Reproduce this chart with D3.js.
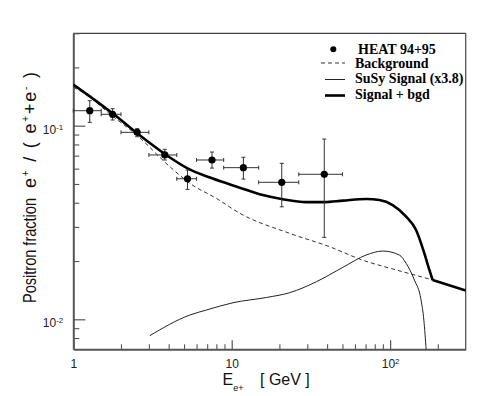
<!DOCTYPE html>
<html>
<head>
<meta charset="utf-8">
<script src="https://d3js.org/d3.v7.min.js"></script>
<style>
  body { margin: 0; background: #ffffff; }
  .tickLabel { font-family: "Liberation Sans Narrow", "Liberation Sans", Arial, sans-serif; font-size: 12px; fill: #222; }
  .legendText { font-family: "Liberation Serif", "Times New Roman", serif; font-size: 14px; font-weight: bold; fill: #000; }
  .axisText { font-family: "Liberation Sans Narrow", "Liberation Sans", Arial, sans-serif; fill: #111; }
</style>
</head>
<body>
<div id="chart"></div>
<script>
// HEAT 94+95 data points (energy in GeV, positron fraction)
var heatE = [1.27, 1.77, 2.53, 3.78, 5.26, 7.51, 11.85, 20.7, 38.4];
var heatFrac = [0.1195, 0.1145, 0.0924, 0.0706, 0.0532, 0.0665, 0.0607, 0.051, 0.0561];
var heatELo = [1.0, 1.5, 2.0, 3.0, 4.5, 6.0, 8.9, 14.8, 26.5];
var heatEHi = [1.5, 2.0, 3.0, 4.5, 6.0, 8.9, 14.8, 26.5, 50];
var heatFracLo = [0.104, 0.107, 0.0877, 0.0665, 0.0469, 0.0604, 0.053, 0.0381, 0.0265];
var heatFracHi = [0.1346, 0.1224, 0.0965, 0.0755, 0.059, 0.0731, 0.0687, 0.0639, 0.0853];

// background curve
var bgE = [1, 1.13, 1.77, 2.51, 4.07, 5.44, 8.01, 11.23, 23.2, 41.5, 67.2, 109, 185.5, 300];
var bgFrac = [0.158, 0.1498, 0.112, 0.0895, 0.0614, 0.0504, 0.0421, 0.0353, 0.0278, 0.0237, 0.0202, 0.018, 0.01595, 0.0141];

// SuSy signal (x3.8)
var sigE = [3.04, 5.44, 6.93, 10.19, 16.55, 23.2, 34.2, 50.3, 70.6, 89.8, 114.4, 126.2, 142.3, 156.8, 163.3, 169];
var sigFrac = [0.00823, 0.01052, 0.01117, 0.01218, 0.01296, 0.01372, 0.01563, 0.01855, 0.02148, 0.02252, 0.02148, 0.01946, 0.01595, 0.01258, 0.0099, 0.0069];

// signal + background
var totE = [1, 1.77, 2.53, 3.78, 5.26, 7.51, 11.12, 15.7, 21.0, 29.6, 38.4, 50.3, 70.6, 85.6, 103.8, 126.2, 145.8, 164.5, 176.9, 185.5, 300];
var totFrac = [0.1632, 0.1158, 0.0913, 0.0714, 0.0602, 0.0535, 0.048, 0.0438, 0.0417, 0.0403, 0.0403, 0.041, 0.0418, 0.0413, 0.0389, 0.0339, 0.0289, 0.0219, 0.018, 0.01595, 0.0141];

// ticks
var xMajor = [1, 10, 100];
var xMajorBase = ["1", "10", "10"];
var xMajorExp = ["", "", "2"];
var xMinor = [2, 3, 4, 5, 6, 7, 8, 9, 20, 30, 40, 50, 60, 70, 80, 90, 200];
var yMajor = [0.01, 0.1];
var yMajorBase = ["10", "10"];
var yMajorExp = ["-2", "-1"];
var yMinor = [0.008, 0.009, 0.02, 0.03, 0.04, 0.05, 0.06, 0.07, 0.08, 0.09, 0.2, 0.3];

// legend entries
var legendLabels = ["HEAT 94+95", "Background", "SuSy Signal (x3.8)", "Signal + bgd"];

var svgWidth = 491;
var svgHeight = 396;
var margin = { top: 33.3, right: 25.3, bottom: 46.7, left: 73.3 };
var width = svgWidth - margin.left - margin.right;
var height = svgHeight - margin.top - margin.bottom;

var svg = d3.select("#chart")
  .append("svg")
  .attr("width", svgWidth)
  .attr("height", svgHeight);

var chartGroup = svg.append("g")
  .attr("transform", `translate(${margin.left}, ${margin.top})`);

var xScale = d3.scaleLog().domain([1, 300]).range([0, width]);
var yScale = d3.scaleLog().domain([0.007, 0.3]).range([height, 0]);

svg.append("defs").append("clipPath").attr("id", "plotClip")
  .append("rect").attr("width", width).attr("height", height);

// frame: top and right thin
chartGroup.append("line")
  .attr("x1", 0).attr("x2", width).attr("y1", 0).attr("y2", 0)
  .attr("stroke", "#444").attr("stroke-width", 1.2);
chartGroup.append("line")
  .attr("x1", width).attr("x2", width).attr("y1", 0).attr("y2", height)
  .attr("stroke", "#444").attr("stroke-width", 1.2);

// minor ticks
chartGroup.append("g")
  .attr("transform", `translate(0, ${height})`)
  .call(d3.axisBottom(xScale).tickValues(xMinor).tickSize(-5).tickSizeOuter(0).tickFormat(""))
  .call(g => g.select(".domain").remove())
  .selectAll("line").attr("stroke", "#555").attr("stroke-width", 1.1);

chartGroup.append("g")
  .call(d3.axisLeft(yScale).tickValues(yMinor).tickSize(-6).tickSizeOuter(0).tickFormat(""))
  .call(g => g.select(".domain").remove())
  .selectAll("line").attr("stroke", "#555").attr("stroke-width", 1.1);

// major ticks with labels
var xAxisG = chartGroup.append("g")
  .attr("transform", `translate(0, ${height})`)
  .call(d3.axisBottom(xScale).tickValues(xMajor).tickSize(-9).tickSizeOuter(0).tickPadding(10).tickFormat(""));
xAxisG.select(".domain").attr("stroke", "#555").attr("stroke-width", 2);
xAxisG.selectAll("line").attr("stroke", "#555").attr("stroke-width", 1.2);
xAxisG.selectAll("text").attr("class", "tickLabel").attr("font-family", null).attr("font-size", null)
  .each(function(d, i) {
    var t = d3.select(this);
    t.text(xMajorBase[i]);
    if (xMajorExp[i]) t.append("tspan").attr("dy", "-0.45em").style("font-size", "8px").text(xMajorExp[i]);
  });

var yAxisG = chartGroup.append("g")
  .call(d3.axisLeft(yScale).tickValues(yMajor).tickSize(-12).tickSizeOuter(0).tickPadding(10).tickFormat(""));
yAxisG.select(".domain").attr("stroke", "#555").attr("stroke-width", 2);
yAxisG.selectAll("line").attr("stroke", "#555").attr("stroke-width", 1.2);
yAxisG.selectAll("text").attr("class", "tickLabel").attr("font-family", null).attr("font-size", null)
  .attr("dy", "0.62em")
  .each(function(d, i) {
    var t = d3.select(this);
    t.text(yMajorBase[i]);
    t.append("tspan").attr("dy", "-0.5em").style("font-size", "8px").text(yMajorExp[i]);
  });

// curves
var line = d3.line()
  .x(d => xScale(d[0]))
  .y(d => yScale(d[1]))
  .curve(d3.curveMonotoneX);

var curves = chartGroup.append("g").attr("clip-path", "url(#plotClip)");

var bgPoints = bgE.map((e, i) => [e, bgFrac[i]]);
curves.append("path")
  .attr("d", line(bgPoints))
  .attr("fill", "none")
  .attr("stroke", "#333")
  .attr("stroke-width", 1)
  .attr("stroke-dasharray", "4,3");

var sigPoints = sigE.map((e, i) => [e, sigFrac[i]]);
curves.append("path")
  .attr("d", line(sigPoints))
  .attr("fill", "none")
  .attr("stroke", "#222")
  .attr("stroke-width", 1);

// thick curve has a kink where the signal ends, so split it there
var totPoints = totE.map((e, i) => [e, totFrac[i]]);
var kink = totPoints.length - 2;
curves.append("path")
  .attr("d", line(totPoints.slice(0, kink + 1)))
  .attr("fill", "none")
  .attr("stroke", "#000")
  .attr("stroke-width", 2.6);
curves.append("path")
  .attr("d", d3.line().x(d => xScale(d[0])).y(d => yScale(d[1]))(totPoints.slice(kink)))
  .attr("fill", "none")
  .attr("stroke", "#000")
  .attr("stroke-width", 2.6);

// error bars and points
var heat = heatE.map((e, i) => ({
  e: e, f: heatFrac[i], eLo: heatELo[i], eHi: heatEHi[i], fLo: heatFracLo[i], fHi: heatFracHi[i]
}));

var errGroup = chartGroup.append("g")
  .attr("stroke", "#333")
  .attr("stroke-width", 1);

heat.forEach(d => {
  var cx = xScale(d.e), cy = yScale(d.f);
  var x0 = xScale(d.eLo), x1 = xScale(d.eHi);
  var y0 = yScale(d.fLo), y1 = yScale(d.fHi);
  errGroup.append("line").attr("x1", x0).attr("x2", x1).attr("y1", cy).attr("y2", cy);
  errGroup.append("line").attr("x1", x0).attr("x2", x0).attr("y1", cy - 2).attr("y2", cy + 2);
  errGroup.append("line").attr("x1", x1).attr("x2", x1).attr("y1", cy - 2).attr("y2", cy + 2);
  errGroup.append("line").attr("x1", cx).attr("x2", cx).attr("y1", y0).attr("y2", y1);
  errGroup.append("line").attr("x1", cx - 2).attr("x2", cx + 2).attr("y1", y0).attr("y2", y0);
  errGroup.append("line").attr("x1", cx - 2).attr("x2", cx + 2).attr("y1", y1).attr("y2", y1);
});

chartGroup.selectAll(".heatDot")
  .data(heat)
  .enter()
  .append("circle")
  .attr("class", "heatDot")
  .attr("cx", d => xScale(d.e))
  .attr("cy", d => yScale(d.f))
  .attr("r", 3.6)
  .attr("fill", "#000");

// legend
var legendBase = [53.5, 68, 83, 99];
var legend = svg.append("g");
legend.append("circle").attr("cx", 333.3).attr("cy", legendBase[0] - 4.3).attr("r", 3).attr("fill", "#000");
legend.append("line").attr("x1", 321).attr("x2", 345).attr("y1", legendBase[1] - 5).attr("y2", legendBase[1] - 5)
  .attr("stroke", "#333").attr("stroke-width", 1).attr("stroke-dasharray", "4,3");
legend.append("line").attr("x1", 325).attr("x2", 345).attr("y1", legendBase[2] - 3.5).attr("y2", legendBase[2] - 3.5)
  .attr("stroke", "#222").attr("stroke-width", 1);
legend.append("line").attr("x1", 325).attr("x2", 345).attr("y1", legendBase[3] - 3.5).attr("y2", legendBase[3] - 3.5)
  .attr("stroke", "#000").attr("stroke-width", 2.6);
legendLabels.forEach((lab, i) => {
  legend.append("text")
    .attr("class", "legendText")
    .attr("x", i === 0 ? 358 : 355)
    .attr("y", legendBase[i])
    .text(lab);
});

// axis labels
var xLabel = svg.append("text")
  .attr("class", "axisText")
  .attr("x", 222.5)
  .attr("y", 384.5)
  .style("font-family", "'Liberation Sans', Arial, sans-serif")
  .style("font-size", "16px");
xLabel.append("tspan").text("E");
xLabel.append("tspan").attr("dy", 6).style("font-size", "9px").text("e+");
xLabel.append("tspan").attr("x", 260).attr("dy", -6).text("[ GeV ]");

// y label in two parts so the spacing follows the original
svg.append("text")
  .attr("class", "axisText")
  .attr("transform", "translate(36, 303) rotate(-90)")
  .attr("textLength", 105)
  .attr("lengthAdjust", "spacingAndGlyphs")
  .style("font-size", "18px")
  .text("Positron fraction");

var yLabel = svg.append("text")
  .attr("class", "axisText")
  .attr("transform", "translate(36, 188) rotate(-90)")
  .attr("textLength", 116)
  .attr("lengthAdjust", "spacing")
  .style("font-size", "18px");
yLabel.append("tspan").text("e");
yLabel.append("tspan").attr("dy", -7).style("font-size", "10px").text("+");
yLabel.append("tspan").attr("dy", 7).text(" / ( e");
yLabel.append("tspan").attr("dy", -7).style("font-size", "10px").text("+");
yLabel.append("tspan").attr("dy", 7).text("+e");
yLabel.append("tspan").attr("dy", -7).style("font-size", "10px").text("-");
yLabel.append("tspan").attr("dy", 7).text(" )");
</script>
</body>
</html>
